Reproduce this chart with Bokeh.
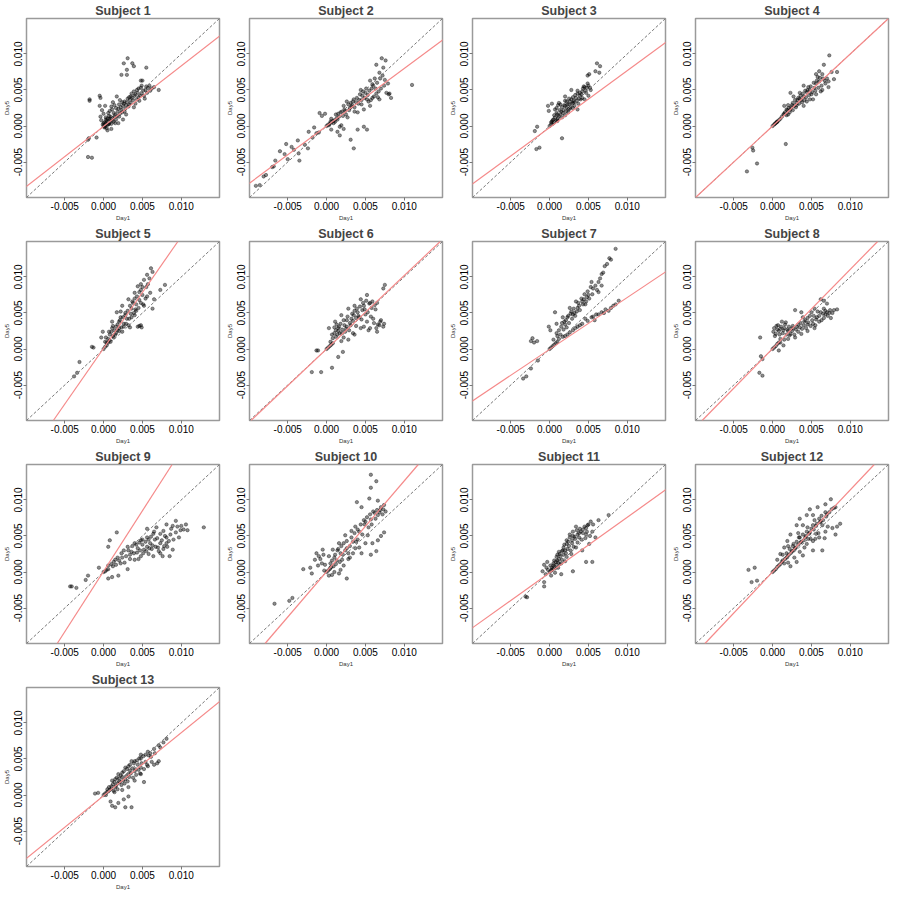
import numpy as np
from bokeh.plotting import figure
from bokeh.layouts import gridplot
from bokeh.models import Slope, FixedTicker, PrintfTickFormatter, Range1d
from bokeh.embed import file_html
from bokeh.resources import INLINE

UNIT = 1e-3  # point values below are written in units of 0.001
LIM = (-0.00992, 0.01492)
TICKS = [-0.005, 0.0, 0.005, 0.010]

subjects = ["Subject %d" % i for i in range(1, 14)]
slopes = [0.84, 0.80, 0.79, 1.00, 1.55, 1.02, 0.72, 1.10, 1.68, 1.26, 0.77, 1.14, 0.875]
intercepts = [-0.05, 0.0, -0.2, 0.0, 0.1, 0.0, -0.05, 0.05, 0.1, 0.05, -0.1, 0.0, -0.1]

s1 = [(0.0,0.0),(0.2,0.1),(0.3,0.4),(0.5,0.2),(0.1,-0.2),(0.6,0.6),(0.8,0.5),(0.4,-0.3),(0.9,0.9),(1.0,0.3),(1.2,1.1),(0.7,1.4),(0.3,1.2),(-0.3,0.8),(-0.4,1.3),(0.0,1.7),(-0.2,2.2),(0.2,2.8),(1.3,0.6),(1.5,1.6),(1.6,0.9),(1.8,2.0),(2.0,1.3),(1.1,2.3),(1.4,2.9),(2.2,2.6),(2.4,1.9),(2.6,3.1),(2.1,3.6),(1.7,4.1),(2.8,2.4),(3.0,3.3),(3.2,2.7),(3.3,4.0),(3.5,3.2),(3.6,4.5),(3.8,3.6),(4.0,4.2),(4.1,3.1),(4.3,5.0),(4.5,4.0),(4.6,3.5),(4.8,5.3),(4.9,4.5),(5.0,6.3),(5.2,4.2),(5.4,5.0),(5.6,4.6),(5.7,5.3),(6.0,4.9),(6.5,5.4),(7.1,5.0),(5.3,3.8),(3.9,2.6),(2.9,1.6),(2.5,0.9),(1.9,0.4),(0.5,-0.6),(1.0,-0.4),(4.8,6.3),(3.1,9.4),(3.7,8.7),(2.6,8.7),(3.0,7.8),(2.3,7.1),(3.0,7.1),(3.9,8.3),(5.5,8.1),(-1.8,3.7),(-1.8,3.5),(-0.5,4.2),(-0.4,3.9),(-0.5,2.8),(-1.9,-1.7),(-2.0,-1.9),(-0.9,-1.6),(-2.0,-4.3),(-1.5,-4.4),(0.6,0.2),(0.8,1.0),(1.4,1.3),(2.7,2.0),(3.4,3.6),(4.4,4.6),
      (0.1,0.5),(0.3,0.9),(0.5,1.0),(0.7,0.3),(0.9,1.3),(1.1,0.8),(1.3,1.8),(1.5,0.4),(1.7,1.4),(1.9,2.4),(2.1,1.7),(2.3,2.2),(2.5,2.8),(2.7,3.4),(2.9,2.9),(3.1,3.8),(3.3,3.0),(3.5,4.1),(3.7,3.9),(3.9,4.8),(4.1,4.4),(4.3,3.7),(4.5,5.2),(4.7,4.2),(4.9,5.6),(5.1,4.9),(5.5,5.5),(5.9,5.6),(6.2,5.2),(0.0,0.4),(-0.1,0.2),(0.2,-0.1),(0.4,0.7),(0.6,1.8),(0.8,2.1),(1.0,2.7),(1.2,3.3),(1.6,2.5),(2.0,3.0),(2.4,3.3)]
s2 = [(0.0,0.0),(0.2,0.2),(0.4,0.3),(0.6,0.5),(0.8,0.7),(1.0,0.8),(1.3,1.1),(1.6,1.3),(-9.1,-8.3),(-8.6,-8.2),(-8.1,-7.0),(-7.8,-6.8),(-7.0,-5.7),(-6.8,-5.6),(-6.6,-4.8),(-6.0,-3.5),(-5.4,-3.9),(-5.0,-4.6),(-5.2,-2.5),(-4.5,-2.9),(-3.7,-2.0),(-3.6,-3.8),(-3.5,-4.8),(-2.4,-3.1),(-2.3,-0.8),(-1.8,-1.6),(-1.6,-0.2),(-0.9,1.8),(-0.6,1.4),(-0.2,1.7),(0.6,-0.5),(1.7,-0.1),(1.7,-1.3),(1.9,0.1),(3.1,-1.9),(3.5,-3.1),(4.0,-0.5),(5.2,-0.5),(4.8,-0.1),(7.1,9.4),(7.6,9.1),(6.4,8.5),(7.3,8.1),(6.8,7.4),(7.9,5.9),(8.1,4.5),(8.3,3.9),(11.0,5.7),(5.6,6.3),(5.8,5.2),(5.2,3.7),(4.8,2.3),(4.0,1.9),(3.1,3.2),(2.3,2.3),(1.5,1.7),(4.4,5.0),(6.4,4.5),(6.8,3.7),(5.6,2.8),(3.5,3.7),(2.7,1.2),(0.6,1.0),(1.1,0.6),(2.0,2.0),(2.5,1.6),(3.0,2.5),(3.3,2.9),(3.8,3.3),(4.2,3.6),(4.6,4.2),(5.0,4.6),(5.4,3.4),(6.0,5.6),(6.2,6.6),(7.0,5.2),(7.5,6.4),(6.6,4.0),(4.5,3.0),(3.6,2.0),(2.8,3.0),(5.9,3.9),
      (0.3,0.1),(0.5,0.6),(0.9,0.4),(1.2,1.6),(1.4,0.9),(1.8,1.9),(2.1,1.4),(2.2,2.8),(2.4,2.1),(2.6,3.4),(2.9,2.2),(3.2,2.7),(3.4,3.4),(3.6,2.6),(3.9,3.9),(4.1,3.1),(4.3,4.4),(4.5,3.6),(4.7,4.8),(4.9,3.9),(5.1,5.2),(5.3,4.3),(5.5,4.9),(5.7,3.6),(5.9,5.8),(6.1,4.1),(6.3,5.2),(6.5,6.0),(6.7,4.8),(6.9,6.6),(7.2,7.0),(7.4,5.6),(7.7,4.6),(8.0,4.4),(-1.0,-0.9),(-1.3,-1.0),(-2.8,-2.6),(-4.2,-3.3),(1.4,-0.8),(2.2,-0.4)]
s3 = [(0.0,0.0),(0.2,0.2),(0.4,0.3),(0.6,0.5),(0.8,0.7),(1.0,0.9),(6.1,8.7),(6.5,8.3),(5.9,7.6),(6.4,7.4),(4.9,7.0),(5.1,7.2),(-0.2,2.8),(0.3,3.1),(-0.1,2.1),(-1.9,-0.7),(-1.6,-0.1),(-1.7,-3.2),(-1.3,-3.0),(1.6,-1.7),(0.3,0.6),(1.2,1.4),(2.0,2.8),(2.8,3.7),(3.6,4.5),(4.5,5.4),(4.9,5.9),(5.3,5.0),(4.0,3.7),(3.2,2.8),(2.4,1.9),(1.6,1.2),(3.6,2.3),(4.5,3.7),(2.8,5.0),(2.0,4.1),(1.2,3.2),(0.7,2.3),(1.8,2.2),(2.2,2.5),(2.5,3.0),(3.0,3.2),(3.4,3.9),(3.9,4.2),(4.2,4.8),(4.7,4.6),(5.0,4.2),(1.5,2.0),(2.6,2.4),(3.1,3.5),(1.0,1.6),(2.2,3.4),(4.3,5.2),(3.7,3.1),
      (0.5,0.9),(0.7,1.2),(0.9,1.8),(1.1,1.1),(1.3,2.2),(1.4,1.6),(1.6,2.6),(1.7,1.8),(1.9,2.9),(2.1,2.0),(2.3,3.0),(2.4,2.3),(2.6,3.4),(2.7,2.6),(2.9,3.1),(3.0,4.0),(3.2,3.3),(3.3,4.3),(3.5,3.5),(3.6,4.9),(3.8,3.8),(3.9,4.6),(4.1,4.4),(4.2,3.9),(4.4,5.5),(4.6,4.9),(4.8,5.3),(5.0,5.6),(5.2,5.3),(0.2,0.5),(0.4,0.8),(0.6,1.5),(0.9,2.5),(1.1,2.9),(1.4,3.0),(2.0,3.5),(2.5,3.8),(3.0,2.5),(2.0,1.5),(1.0,0.7)]
s4 = [(0.0,0.0),(0.2,0.2),(0.4,0.4),(0.6,0.6),(0.8,0.8),(1.0,1.0),(1.2,1.3),(7.3,9.8),(6.6,8.5),(7.6,7.5),(8.3,7.5),(7.9,6.5),(2.3,4.6),(1.7,-2.5),(-2.6,-3.0),(-2.5,-3.4),(-2.0,-5.2),(-3.3,-6.3),(0.6,0.6),(1.5,1.7),(2.3,2.3),(3.1,3.2),(4.0,4.1),(4.8,5.0),(5.6,5.9),(6.4,7.2),(1.5,2.8),(2.7,4.1),(4.0,5.6),(5.6,7.2),(6.0,7.6),(4.0,2.8),(5.2,3.7),(6.4,5.0),(6.8,5.9),(7.2,5.4),(4.8,3.7),(1.9,2.2),(2.5,2.9),(3.0,2.6),(3.5,3.8),(3.8,3.3),(4.4,4.7),(5.0,4.4),(5.4,5.3),(6.0,6.2),(2.0,1.6),(3.3,3.9),(4.6,5.4),(5.8,6.8),(1.8,1.5),
      (1.4,1.6),(1.6,1.9),(1.8,2.3),(2.1,2.5),(2.2,1.9),(2.4,2.6),(2.6,3.2),(2.8,2.8),(2.9,3.6),(3.1,2.9),(3.2,3.6),(3.4,3.1),(3.6,4.2),(3.7,3.6),(3.9,4.5),(4.1,3.6),(4.2,4.9),(4.3,4.0),(4.5,5.0),(4.7,4.3),(4.9,5.5),(5.1,4.7),(5.3,6.0),(5.5,4.9),(5.7,6.3),(5.9,5.3),(6.1,6.7),(6.3,5.6),(6.5,6.6),(6.7,6.3),(7.0,6.6),(7.2,6.2),(2.0,2.9),(2.6,2.2),(3.5,4.6),(4.4,3.4),(5.6,4.4),(6.2,4.8),(0.3,0.3),(0.5,0.5)]
s5 = [(0.0,0.0),(0.2,0.3),(0.4,0.5),(0.6,0.9),(0.8,1.2),(6.1,11.2),(6.3,10.7),(5.6,10.3),(4.8,9.0),(4.4,8.7),(4.0,7.8),(3.2,6.9),(2.4,6.0),(1.7,5.1),(1.1,3.8),(0.7,2.4),(0.3,1.6),(2.4,2.4),(3.2,3.3),(4.4,3.1),(4.8,3.3),(4.0,4.7),(5.2,6.0),(5.6,7.3),(6.5,6.9),(7.3,8.2),(7.9,8.9),(6.3,5.6),(3.6,5.6),(2.8,4.7),(2.0,3.8),(1.1,2.9),(1.5,2.0),(4.8,8.2),(5.2,9.6),(-0.1,2.4),(-0.3,1.6),(-1.5,0.3),(-1.3,0.2),(-3.1,-1.8),(-3.4,-3.3),(-3.8,-3.8),(1.3,1.6),(2.0,2.9),(2.6,3.5),(3.0,4.2),(3.5,4.9),(4.2,6.2),(4.6,6.8),(5.0,7.5),(3.8,6.4),(2.2,4.4),(1.8,2.6),(3.4,3.0),(5.5,8.6),(4.1,5.5),
      (0.4,0.9),(0.6,1.4),(0.8,2.0),(0.9,1.0),(1.0,2.4),(1.2,1.8),(1.4,2.6),(1.6,3.1),(1.6,2.2),(1.8,3.4),(2.0,2.5),(2.1,4.0),(2.3,3.0),(2.5,4.4),(2.6,3.1),(2.8,5.0),(2.9,3.5),(3.1,5.3),(3.3,4.2),(3.4,6.0),(3.6,4.4),(3.7,6.6),(3.9,5.0),(4.0,7.0),(4.2,5.3),(4.3,7.3),(4.5,5.7),(4.6,7.9),(4.8,6.4),(5.0,8.6),(5.1,6.2),(5.4,7.0),(5.7,9.0),(5.9,9.8),(6.0,7.8),(4.9,3.0),(4.6,3.2),(0.2,1.0),(1.2,3.2),(2.2,5.2)]
s6 = [(0.0,0.0),(0.2,0.2),(0.4,0.4),(0.6,0.6),(0.8,0.8),(7.5,8.9),(7.3,8.4),(6.5,6.4),(5.2,7.5),(4.4,6.9),(3.6,6.0),(2.8,5.6),(1.9,4.7),(1.1,3.8),(0.3,2.9),(0.7,2.0),(1.5,2.5),(2.3,3.3),(3.2,4.2),(4.0,5.1),(4.8,6.0),(5.6,6.4),(4.4,2.9),(5.2,3.8),(6.0,4.2),(6.9,3.8),(7.3,3.1),(6.5,2.4),(5.6,2.9),(3.6,2.0),(2.8,1.3),(1.9,1.1),(2.1,-0.4),(1.5,-1.1),(0.7,-2.6),(-0.7,-3.2),(-1.9,-3.2),(-1.3,-0.2),(-1.1,-0.2),(1.2,2.6),(1.6,3.1),(2.0,2.2),(2.5,2.8),(3.0,3.6),(3.5,4.7),(3.8,3.2),(4.2,4.4),(4.6,5.4),(5.0,4.8),(5.8,5.7),(6.2,6.1),(6.6,3.4),(1.0,2.2),(1.4,2.0),(2.6,4.0),
      (0.5,1.0),(0.8,1.5),(1.0,3.0),(1.2,1.7),(1.3,3.4),(1.5,2.9),(1.7,2.2),(1.8,3.5),(2.0,2.7),(2.2,4.0),(2.4,2.4),(2.6,3.1),(2.7,4.5),(2.9,2.6),(3.1,3.3),(3.3,4.9),(3.4,3.9),(3.6,5.3),(3.8,4.3),(3.9,5.6),(4.1,4.6),(4.3,5.9),(4.5,4.1),(4.7,6.4),(4.9,5.5),(5.1,6.7),(5.3,5.1),(5.5,6.3),(5.7,4.5),(5.9,6.6),(6.1,3.6),(6.3,5.5),(6.8,3.3),(7.0,4.0),(7.4,3.5),(6.4,2.9),(5.4,2.6),(4.8,3.1),(3.4,2.2),(2.2,1.6)]
s7 = [(0.0,0.0),(0.2,0.2),(0.4,0.4),(0.6,0.6),(8.5,13.9),(7.7,12.6),(7.9,12.4),(7.1,11.5),(6.7,10.4),(6.3,9.3),(5.6,8.4),(5.0,7.5),(4.2,6.6),(3.6,5.7),(3.0,4.8),(2.1,4.0),(1.5,3.1),(0.9,2.2),(0.5,1.3),(6.3,7.9),(5.4,9.3),(6.7,8.8),(4.6,6.2),(3.4,6.6),(2.6,5.7),(1.7,4.4),(0.9,3.5),(0.7,5.1),(0.1,2.6),(-0.1,3.1),(1.7,1.7),(3.0,2.6),(4.2,3.5),(5.4,4.4),(6.7,5.1),(7.9,5.7),(8.9,6.7),(8.5,6.2),(5.8,4.0),(4.6,4.2),(-2.2,1.5),(-2.4,1.1),(-2.0,0.9),(-1.6,1.1),(-1.5,-1.6),(-2.4,-2.7),(-3.0,-3.8),(-3.4,-4.1),(1.2,1.4),(2.4,4.6),(2.8,5.2),(3.2,5.0),(3.8,6.0),(4.4,6.9),(4.8,7.2),(2.0,3.4),(1.0,1.0),(2.3,2.0),(3.6,3.1),(7.2,5.5),(6.0,4.8),
      (0.8,0.8),(1.0,1.8),(1.2,2.6),(1.4,2.0),(1.6,3.6),(1.8,2.7),(1.9,3.8),(2.2,3.0),(2.3,4.4),(2.5,3.6),(2.7,4.9),(2.9,4.2),(3.1,5.6),(3.3,4.6),(3.5,5.2),(3.7,6.4),(3.9,5.4),(4.1,7.0),(4.3,6.2),(4.5,7.6),(4.7,6.6),(4.9,8.0),(5.1,7.0),(5.3,8.6),(5.5,7.6),(5.9,8.8),(6.1,8.2),(6.5,9.8),(6.9,10.6),(7.4,11.8),(2.0,1.8),(2.6,2.3),(3.3,2.9),(3.9,3.3),(4.9,3.9),(5.6,4.5),(6.3,4.8),(7.0,5.0),(7.6,5.3),(8.2,6.0)]
s8 = [(0.0,0.0),(0.2,0.2),(0.4,0.4),(0.6,0.7),(0.8,0.9),(-1.6,1.6),(-1.5,-1.0),(-1.3,-1.4),(-1.7,-3.3),(-1.3,-3.7),(0.2,2.9),(0.8,2.5),(1.2,3.8),(1.6,3.4),(0.4,2.1),(1.0,1.4),(2.0,2.5),(2.9,5.4),(3.7,5.1),(3.3,3.4),(4.1,3.8),(4.5,4.3),(5.0,5.1),(5.4,5.6),(6.2,6.9),(6.6,6.7),(7.0,6.3),(7.0,5.1),(7.9,5.4),(8.3,5.5),(7.5,4.3),(6.6,4.3),(6.0,3.8),(5.4,2.9),(4.5,2.5),(3.7,2.1),(2.9,1.6),(2.0,1.4),(1.4,0.5),(0.8,-0.2),(4.5,3.4),(5.6,4.1),(6.2,5.1),(6.6,5.6),(0.5,3.2),(1.0,2.8),(1.4,2.6),(2.4,2.8),(3.0,2.7),(3.9,4.4),(5.2,3.5),(6.8,4.8),(7.3,5.0),(0.1,2.4),(1.8,2.0),(2.6,3.2),
      (0.3,1.8),(0.6,2.7),(0.7,3.3),(0.9,2.0),(1.1,3.1),(1.3,2.2),(1.5,2.9),(1.7,3.7),(1.9,2.7),(2.1,3.1),(2.3,2.1),(2.5,2.5),(2.7,2.9),(2.8,2.0),(3.1,3.1),(3.3,2.4),(3.5,3.0),(3.6,3.6),(3.8,2.8),(4.0,3.3),(4.2,4.0),(4.3,2.9),(4.6,3.7),(4.8,4.6),(4.9,3.2),(5.1,4.0),(5.3,4.6),(5.5,3.3),(5.7,4.4),(5.8,5.2),(6.0,4.6),(6.3,4.0),(6.5,4.9),(6.8,5.3),(7.1,4.6),(7.4,5.4),(7.7,5.0),(1.0,0.9),(1.5,1.3),(2.2,1.9)]
s9 = [(0.0,0.0),(0.2,0.1),(0.4,0.3),(0.6,0.4),(12.9,6.2),(10.8,5.8),(10.6,6.6),(10.0,6.4),(9.3,7.1),(8.9,6.4),(8.1,6.6),(7.7,5.7),(6.8,6.2),(6.4,5.3),(5.6,4.8),(4.8,4.4),(4.0,4.0),(3.1,3.5),(2.3,2.6),(1.5,1.7),(0.6,0.9),(8.1,4.0),(8.9,3.1),(8.5,2.2),(7.3,2.6),(6.4,2.2),(5.6,3.5),(4.8,2.2),(4.0,1.7),(3.1,0.4),(2.7,1.3),(1.9,-0.5),(1.1,-0.7),(0.6,-0.9),(1.7,5.5),(0.8,4.4),(0.6,3.5),(-0.6,0.6),(-2.0,-0.5),(-2.3,-1.1),(-4.3,-2.0),(-4.1,-2.0),(-3.5,-2.2),(9.7,4.8),(8.1,4.8),(7.3,4.0),(6.0,4.0),(5.2,3.1),(9.3,5.5),(5.6,6.0),(3.6,2.8),(4.4,3.3),(5.0,3.8),(6.2,3.2),(7.0,3.4),(7.8,3.6),(6.6,4.5),(3.4,1.8),(2.2,1.2),(1.2,0.8),(7.6,2.2),(8.6,5.2),(9.9,5.8),
      (1.0,1.1),(1.3,1.4),(1.6,1.0),(1.8,2.0),(2.0,1.6),(2.4,2.0),(2.6,3.0),(2.9,2.2),(3.2,3.0),(3.4,2.4),(3.7,3.6),(3.9,2.6),(4.2,3.8),(4.3,2.7),(4.6,4.1),(4.7,3.0),(5.0,4.5),(5.1,2.6),(5.4,4.2),(5.5,2.9),(5.8,4.5),(5.9,3.3),(6.1,4.9),(6.3,3.7),(6.5,5.6),(6.7,3.5),(6.9,4.7),(7.1,2.9),(7.3,5.3),(7.5,4.4),(7.7,3.2),(7.9,5.0),(8.2,3.5),(8.4,4.3),(8.7,6.0),(9.0,4.5),(9.5,6.3),(10.3,5.9),(4.5,1.8),(5.8,2.5)]
s10 = [(0.0,0.0),(0.2,0.2),(0.4,0.4),(0.6,0.7),(5.7,13.5),(6.4,12.6),(5.7,11.7),(5.5,10.2),(6.6,9.9),(3.9,9.7),(4.5,9.0),(7.0,9.0),(7.4,9.3),(7.6,8.4),(6.6,7.9),(5.7,7.3),(4.9,6.6),(3.7,6.3),(3.2,5.7),(2.4,5.1),(1.6,4.0),(0.8,3.1),(0.3,2.2),(7.4,5.5),(6.6,4.4),(5.9,4.0),(5.3,5.1),(4.5,2.6),(3.7,3.3),(2.8,2.6),(2.0,1.7),(1.2,1.1),(1.0,0.0),(1.6,-0.2),(2.6,-0.9),(0.3,-0.5),(-0.5,3.1),(-1.3,2.6),(-1.5,1.7),(-1.1,0.9),(-2.1,0.6),(-3.0,0.4),(-1.9,-0.2),(-6.7,-4.4),(-4.8,-4.0),(-4.4,-3.6),(5.7,2.4),(6.4,2.9),(6.2,8.2),(6.9,8.6),(7.2,8.0),(5.0,7.0),(4.2,5.6),(3.4,4.2),(2.6,3.3),(1.8,2.6),(1.0,2.0),(0.5,1.2),(2.2,4.0),(-0.8,1.8),(-0.4,2.4),(1.4,3.0),(3.0,2.0),(4.0,4.5),
       (0.5,0.6),(0.7,1.6),(0.9,0.8),(1.1,2.4),(1.3,1.6),(1.5,3.2),(1.7,1.4),(1.9,3.6),(2.1,2.4),(2.2,0.9),(2.4,3.0),(2.6,4.3),(2.8,1.8),(3.0,3.6),(3.2,4.8),(3.4,2.6),(3.6,5.4),(3.8,4.2),(4.0,5.9),(4.2,3.4),(4.4,6.6),(4.6,5.2),(4.8,7.2),(5.0,4.0),(5.2,7.6),(5.4,6.2),(5.6,8.0),(5.8,6.6),(6.0,8.4),(6.3,7.4),(6.5,8.6),(6.8,8.3),(7.0,5.0),(7.3,8.7),(-0.2,1.0),(-0.6,1.2),(-1.0,2.2),(-0.3,0.2),(0.7,-0.4),(1.8,0.3)]
s11 = [(0.0,0.0),(0.2,0.2),(0.4,0.4),(0.6,0.7),(7.6,7.9),(6.3,7.2),(5.3,7.0),(4.9,6.5),(4.7,6.1),(4.0,5.6),(3.4,6.3),(3.0,5.6),(2.6,4.8),(2.2,3.9),(1.8,3.4),(1.3,2.5),(0.9,2.1),(0.5,1.2),(-0.3,1.4),(-0.7,1.0),(-0.9,0.1),(-0.7,-1.4),(-0.7,-2.0),(-3.1,-3.4),(-2.9,-3.5),(3.8,4.8),(4.7,5.2),(5.5,5.6),(5.9,4.8),(5.1,3.9),(4.2,3.0),(3.4,3.4),(5.5,1.4),(4.7,1.4),(3.0,0.1),(2.8,2.5),(2.2,2.1),(1.5,1.2),(1.1,0.6),(0.7,-0.1),(0.3,0.3),(1.5,-0.3),(1.0,1.6),(1.6,2.9),(2.0,3.0),(2.4,4.2),(2.9,4.4),(3.2,4.9),(3.6,5.2),(4.3,5.9),(0.8,1.4),(1.2,1.8),(0.2,-0.5),(2.0,1.5),
       (0.3,0.6),(0.5,0.9),(0.6,1.6),(0.7,0.5),(0.9,1.0),(1.0,2.4),(1.1,1.3),(1.2,2.8),(1.3,1.1),(1.4,2.2),(1.6,1.7),(1.7,3.0),(1.8,2.4),(1.9,3.8),(2.1,2.6),(2.2,4.4),(2.3,3.2),(2.5,3.6),(2.6,5.2),(2.7,3.0),(2.9,4.0),(3.0,5.0),(3.1,3.5),(3.3,4.6),(3.5,5.8),(3.6,4.1),(3.8,5.4),(3.9,6.0),(4.1,4.5),(4.3,5.4),(4.5,6.3),(4.6,4.7),(4.8,5.6),(5.0,6.6),(5.2,5.0),(5.6,6.6),(-0.4,0.6),(-0.5,-0.3),(0.1,0.9),(-0.2,0.3)]
s12 = [(0.0,0.0),(0.2,0.2),(0.4,0.4),(0.6,0.7),(0.8,0.9),(7.5,10.1),(8.1,9.0),(6.8,9.4),(5.8,9.0),(4.8,8.7),(4.4,7.9),(3.5,7.4),(3.1,6.5),(2.3,5.2),(1.9,4.3),(1.5,3.4),(1.0,2.5),(0.6,1.7),(2.7,3.9),(3.5,4.8),(4.4,5.6),(5.2,6.5),(6.0,7.4),(6.8,8.3),(4.4,3.9),(5.2,4.3),(6.0,4.8),(6.8,5.6),(7.7,6.1),(8.1,5.2),(8.7,6.7),(6.4,3.0),(5.2,3.0),(3.9,2.3),(3.1,1.4),(2.3,0.8),(1.9,2.1),(2.7,3.0),(1.5,1.2),(-3.1,0.3),(-2.3,0.6),(-2.7,-1.4),(-2.0,-1.2),(5.2,7.9),(3.9,6.5),(6.4,6.5),(1.2,1.4),(1.8,2.0),(2.4,2.7),(3.0,3.4),(3.6,4.1),(4.2,4.8),(4.8,5.5),(5.6,6.4),(6.2,7.0),(7.0,8.0),(2.0,3.6),(3.3,5.4),(4.6,4.6),(5.6,5.3),
       (1.0,1.1),(1.3,1.6),(1.6,1.8),(1.8,2.6),(2.1,2.4),(2.2,3.2),(2.5,2.9),(2.6,3.6),(2.9,3.3),(3.1,4.2),(3.3,3.8),(3.4,4.8),(3.7,4.2),(3.9,5.2),(4.0,4.4),(4.3,5.0),(4.5,6.2),(4.7,5.3),(4.9,4.6),(5.0,6.0),(5.3,5.9),(5.4,7.2),(5.5,4.6),(5.7,6.7),(5.9,5.4),(6.1,6.9),(6.3,7.8),(6.5,7.2),(6.7,4.7),(6.9,7.7),(7.1,6.3),(7.3,8.3),(7.6,8.7),(7.9,8.9),(8.3,6.3),(2.0,1.3),(2.8,2.0),(3.5,2.8),(4.1,3.4),(1.3,2.4)]
s13 = [(0.0,0.0),(0.2,0.2),(0.4,0.4),(0.6,0.5),(0.8,0.7),(8.1,7.8),(7.7,7.3),(7.1,6.9),(6.5,6.4),(5.7,6.0),(4.8,5.6),(4.0,4.7),(3.2,4.0),(2.4,3.1),(1.5,2.2),(0.7,1.1),(7.1,4.7),(6.5,4.2),(5.7,4.0),(4.8,3.8),(4.0,3.3),(3.2,2.9),(2.4,2.5),(4.8,2.9),(4.0,2.0),(3.2,1.1),(2.4,0.7),(1.5,1.1),(5.2,1.8),(3.2,-0.2),(2.6,-0.6),(0.9,-0.9),(1.1,-1.5),(1.5,-1.7),(2.8,-1.7),(3.6,-1.7),(1.9,-1.1),(-1.1,0.2),(-0.7,0.3),(4.8,5.1),(3.6,4.7),(2.8,3.8),(1.9,2.9),(1.1,2.0),(6.1,5.3),(1.0,1.2),(1.8,1.6),(2.0,2.3),(2.8,2.2),(3.4,3.4),(4.4,4.2),(5.4,4.6),(6.0,5.8),(1.4,0.4),(2.1,1.8),
       (1.0,0.9),(1.2,1.5),(1.3,0.6),(1.4,1.8),(1.6,1.3),(1.7,2.4),(1.8,0.8),(2.0,1.9),(2.2,2.7),(2.3,1.4),(2.5,2.0),(2.6,3.3),(2.7,1.6),(2.9,2.6),(3.0,3.6),(3.1,1.9),(3.3,2.5),(3.4,4.2),(3.5,3.0),(3.7,3.7),(3.8,2.4),(3.9,4.4),(4.1,3.6),(4.2,2.8),(4.3,4.8),(4.5,3.5),(4.6,5.1),(4.7,3.0),(4.9,4.4),(5.1,5.4),(5.2,3.6),(5.4,5.6),(5.6,4.2),(5.8,5.5),(6.2,4.6),(6.6,5.8),(6.9,4.4),(7.3,6.6),(0.3,0.0),(0.5,0.8)]

points = [s1, s2, s3, s4, s5, s6, s7, s8, s9, s10, s11, s12, s13]

FONT = "Liberation Sans"
figs = []
for i in range(13):
    p = figure(width=223, height=223, title=subjects[i], output_backend="svg",
               toolbar_location=None,
               x_range=Range1d(*LIM), y_range=Range1d(*LIM),
               min_border_left=2, min_border_right=4, min_border_top=2, min_border_bottom=2)
    p.title.text_font = FONT
    p.title.text_font_size = "12.5px"
    p.title.text_font_style = "bold"
    p.title.align = "center"
    p.title.standoff = 2
    p.grid.visible = False
    p.outline_line_color = "#9a9a9a"
    p.outline_line_width = 1.5
    p.background_fill_color = "white"
    p.border_fill_color = "white"
    for ax in (p.xaxis[0], p.yaxis[0]):
        ax.ticker = FixedTicker(ticks=TICKS)
        ax.formatter = PrintfTickFormatter(format="%.3f")
        ax.major_label_text_font = FONT
        ax.major_label_text_font_size = "10px"
        ax.major_label_text_color = "black"
        ax.axis_line_color = None
        ax.major_tick_line_color = "#777777"
        ax.major_tick_out = 3
        ax.major_tick_in = 0
        ax.minor_tick_line_color = None
        ax.major_label_standoff = 1
        ax.axis_label_text_font = FONT
        ax.axis_label_text_font_size = "6px"
        ax.axis_label_text_font_style = "normal"
        ax.axis_label_text_color = "#333333"
        ax.axis_label_standoff = 2
    p.xaxis.axis_label = "Day1"
    p.yaxis.axis_label = "Day5"
    p.yaxis.major_label_orientation = "vertical"

    xs = [pt[0] * UNIT for pt in points[i]]
    ys = [pt[1] * UNIT for pt in points[i]]
    p.scatter(xs, ys, size=3.4, fill_color="black", fill_alpha=0.45,
              line_color="black", line_alpha=0.6, line_width=0.6)
    p.add_layout(Slope(gradient=1, y_intercept=0, line_color="#777777",
                       line_dash="3 2", line_width=1))
    p.add_layout(Slope(gradient=slopes[i], y_intercept=intercepts[i] * UNIT,
                       line_color="#f58a8a", line_width=1.2))
    figs.append(p)

grid = gridplot(figs, ncols=4, toolbar_location=None)
open("out.html", "w").write(file_html(grid, INLINE))
